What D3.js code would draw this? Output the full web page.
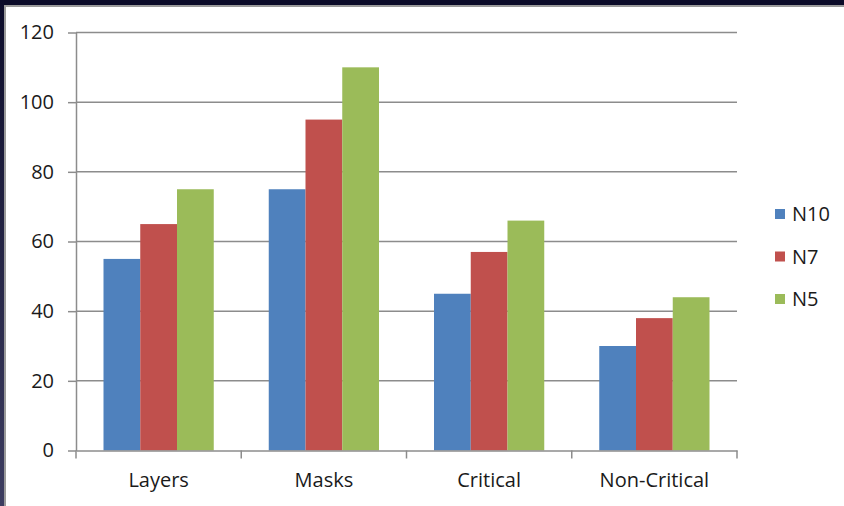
<!DOCTYPE html>
<html>
<head>
<meta charset="utf-8">
<script src="https://cdn.jsdelivr.net/npm/d3@7"></script>
<style>
  body { margin: 0; background: #fff; }
  svg { display: block; }
  text { font-family: "Open Sans", sans-serif; fill: #1a1a1a; }
</style>
</head>
<body>
<div id="chart"></div>
<script>
// chart data
var categories = ["Layers", "Masks", "Critical", "Non-Critical"];
var seriesNames = ["N10", "N7", "N5"];
var n10 = [55, 75, 45, 30];
var n7 = [65, 95, 57, 38];
var n5 = [75, 110, 66, 44];
var yTicks = [0, 20, 40, 60, 80, 100, 120];
var colors = ["#4f81bd", "#c0504d", "#9bbb59"];

var seriesValues = [n10, n7, n5];

var width = 844, height = 506;
var plot = {left: 76, right: 737, top: 32.5, bottom: 450.5};
var fontSize = "20px";

var svg = d3.select("#chart").append("svg")
  .attr("width", width)
  .attr("height", height);

// dark frame round the slide
var grad = svg.append("defs").append("linearGradient")
  .attr("id", "frame").attr("x1", 0).attr("y1", 0).attr("x2", 0).attr("y2", 1);
grad.append("stop").attr("offset", "0%").attr("stop-color", "#0c0c2a");
grad.append("stop").attr("offset", "100%").attr("stop-color", "#3d3d60");

svg.append("rect").attr("x", 0).attr("y", 0).attr("width", width).attr("height", 5)
  .attr("fill", "#0b0b28");
svg.append("rect").attr("x", 0).attr("y", 0).attr("width", 4).attr("height", height)
  .attr("fill", "url(#frame)");
svg.append("rect").attr("x", 4).attr("y", 5).attr("width", width - 4).attr("height", 2)
  .attr("fill", "#9a9a9a");
svg.append("rect").attr("x", 4).attr("y", 5).attr("width", 2).attr("height", height - 5)
  .attr("fill", "#9a9a9a");

var y = d3.scaleLinear().domain([0, 120]).range([plot.bottom, plot.top]);

var x0 = d3.scaleBand().domain(categories).range([plot.left, plot.right]);
var groupPad = 27.5;
var x1 = d3.scaleBand().domain(d3.range(seriesNames.length))
  .range([groupPad, x0.bandwidth() - groupPad]);

// gridlines
svg.append("g")
  .selectAll("line")
  .data(yTicks.filter(function(d) { return d > 0; }))
  .join("line")
  .attr("x1", plot.left)
  .attr("x2", plot.right)
  .attr("y1", function(d) { return y(d); })
  .attr("y2", function(d) { return y(d); })
  .attr("stroke", "#8c8c8c")
  .attr("stroke-width", 1.5);

// bars
var groups = svg.append("g")
  .selectAll("g")
  .data(categories)
  .join("g")
  .attr("transform", function(d) { return "translate(" + x0(d) + ",0)"; });

groups.selectAll("rect")
  .data(function(d, ci) {
    return seriesValues.map(function(vals, si) { return {s: si, v: vals[ci]}; });
  })
  .join("rect")
  .attr("x", function(d) { return x1(d.s); })
  .attr("width", x1.bandwidth())
  .attr("y", function(d) { return y(d.v); })
  .attr("height", function(d) { return y(0) - y(d.v); })
  .attr("fill", function(d) { return colors[d.s]; });

// y axis
var yAxis = d3.axisLeft(y)
  .tickValues(yTicks)
  .tickSizeInner(8)
  .tickSizeOuter(0)
  .tickPadding(14);

var yg = svg.append("g")
  .attr("transform", "translate(" + plot.left + ",0)")
  .call(yAxis);
yg.select(".domain").attr("stroke", "#8c8c8c").attr("stroke-width", 1.5);
yg.selectAll(".tick line").attr("stroke", "#8c8c8c").attr("stroke-width", 1.5);
yg.selectAll(".tick text")
  .style("font-size", fontSize)
  .style("font-family", "'Open Sans', sans-serif")
  .attr("fill", "#1a1a1a");

// x axis
var xAxis = d3.axisBottom(x0).tickSize(0).tickPadding(22);
var xg = svg.append("g")
  .attr("transform", "translate(0," + plot.bottom + ")")
  .call(xAxis);
xg.select(".domain").attr("stroke", "#8c8c8c").attr("stroke-width", 1.5);
xg.selectAll(".tick text")
  .style("font-size", fontSize)
  .style("font-family", "'Open Sans', sans-serif")
  .attr("fill", "#1a1a1a");

// category boundary ticks
var bounds = categories.map(function(c) { return x0(c); }).concat([plot.right]);
xg.selectAll(".bound")
  .data(bounds)
  .join("line")
  .attr("class", "bound")
  .attr("x1", function(d) { return d; })
  .attr("x2", function(d) { return d; })
  .attr("y1", 0)
  .attr("y2", 8)
  .attr("stroke", "#8c8c8c")
  .attr("stroke-width", 1.5);

// legend
var legend = svg.append("g")
  .selectAll("g")
  .data(seriesNames)
  .join("g")
  .attr("transform", function(d, i) { return "translate(775," + (214 + i * 42.5) + ")"; });

legend.append("rect")
  .attr("x", 0)
  .attr("y", -5)
  .attr("width", 10)
  .attr("height", 10)
  .attr("fill", function(d, i) { return colors[i]; });

legend.append("text")
  .attr("x", 17)
  .attr("y", 0)
  .attr("dy", "0.35em")
  .style("font-size", fontSize)
  .text(function(d) { return d; });
</script>
</body>
</html>
